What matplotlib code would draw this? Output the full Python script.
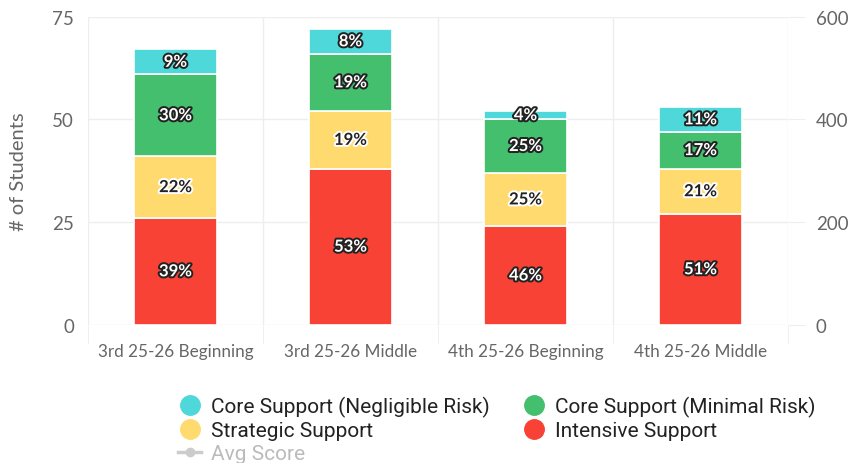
import matplotlib
matplotlib.use('Agg')
import matplotlib.pyplot as plt
import matplotlib.patheffects as pe
from matplotlib.lines import Line2D
import numpy as np

categories = ['3rd 25-26 Beginning', '3rd 25-26 Middle', '4th 25-26 Beginning', '4th 25-26 Middle']
series = ['Intensive Support', 'Strategic Support', 'Core Support (Minimal Risk)', 'Core Support (Negligible Risk)']
intensive = [26, 38, 24, 27]
strategic = [15, 14, 13, 11]
minimal = [20, 14, 13, 9]
negligible = [6, 6, 2, 6]
pct_intensive = ['39%', '53%', '46%', '51%']
pct_strategic = ['22%', '19%', '25%', '21%']
pct_minimal = ['30%', '19%', '25%', '17%']
pct_negligible = ['9%', '8%', '4%', '11%']
left_ticks = [0, 25, 50, 75]
right_ticks = [0, 200, 400, 600]

colors = {'Intensive Support': '#f84236',
          'Strategic Support': '#ffda6f',
          'Core Support (Minimal Risk)': '#43bf6e',
          'Core Support (Negligible Risk)': '#4ed8da'}

plt.rcParams['font.family'] = ['Lato', 'DejaVu Sans']

fig = plt.figure(figsize=(8.5, 4.64), dpi=100)
ax = fig.add_axes([0.1035, 0.298, 0.8235, 0.664])

x = np.arange(len(categories))
values = [intensive, strategic, minimal, negligible]
labels = [pct_intensive, pct_strategic, pct_minimal, pct_negligible]
bottom = np.zeros(len(categories))
for name, vals, labs in zip(series, values, labels):
    vals = np.array(vals, dtype=float)
    ax.bar(x, vals, width=0.47, bottom=bottom, color=colors[name],
           edgecolor='white', linewidth=1.2, zorder=3)
    for xi, b, v, lab in zip(x, bottom, vals, labs):
        if name == 'Strategic Support':
            fc, ec = '#222222', 'white'
        else:
            fc, ec = 'white', '#222222'
        ax.text(xi, b + v / 2, lab, ha='center', va='center', fontsize=12,
                fontweight='bold', color=fc, zorder=4,
                path_effects=[pe.withStroke(linewidth=2.8, foreground=ec)])
    bottom += vals

ax.set_xlim(-0.5, len(categories) - 0.5)
ax.set_ylim(0, 75)
ax.set_yticks(left_ticks)
ax.set_xticks(x)
ax.set_xticklabels(categories)
ax.set_xticks(np.arange(len(categories) + 1) - 0.5, minor=True)
ax.grid(True, which='minor', axis='x', color='#eeeeee', linewidth=1, zorder=0)
ax.grid(True, which='major', axis='y', color='#eeeeee', linewidth=1, zorder=0)
ax.tick_params(axis='x', which='major', length=0, pad=13, labelsize=12.3, labelcolor='#666666')
ax.tick_params(axis='x', which='minor', length=14, color='#eeeeee')
ax.tick_params(axis='y', length=0, pad=10, labelsize=13.5, labelcolor='#666666')
ax.set_ylabel('# of Students', fontsize=14.5, color='#666666', labelpad=18)
for s in ax.spines.values():
    s.set_visible(False)

ax2 = ax.twinx()
ax2.set_ylim(0, 600)
ax2.set_yticks(right_ticks)
ax2.tick_params(axis='y', length=12, color='#eeeeee', pad=8, labelsize=13.5, labelcolor='#666666')
for s in ax2.spines.values():
    s.set_visible(False)

handles = [Line2D([], [], marker='o', linestyle='', markersize=14, color=colors['Core Support (Negligible Risk)']),
           Line2D([], [], marker='o', linestyle='', markersize=14, color=colors['Strategic Support']),
           Line2D([], [], marker='o', linestyle='-', markersize=6, linewidth=2.5, color='#cccccc'),
           Line2D([], [], marker='o', linestyle='', markersize=14, color=colors['Core Support (Minimal Risk)']),
           Line2D([], [], marker='o', linestyle='', markersize=14, color=colors['Intensive Support'])]
names = ['Core Support (Negligible Risk)', 'Strategic Support', 'Avg Score',
         'Core Support (Minimal Risk)', 'Intensive Support']
leg = fig.legend(handles, names, loc='upper left', bbox_to_anchor=(0.2, 0.163), ncol=2,
                 frameon=False, fontsize=15, handlelength=1.1, handletextpad=0.45,
                 columnspacing=1.6, labelspacing=0.2, borderaxespad=0)
for t in leg.get_texts():
    t.set_family(['Roboto', 'DejaVu Sans'])
    t.set_color('#222222')
leg.get_texts()[2].set_color('#bbbbbb')

fig.savefig('out.png', dpi=100)
